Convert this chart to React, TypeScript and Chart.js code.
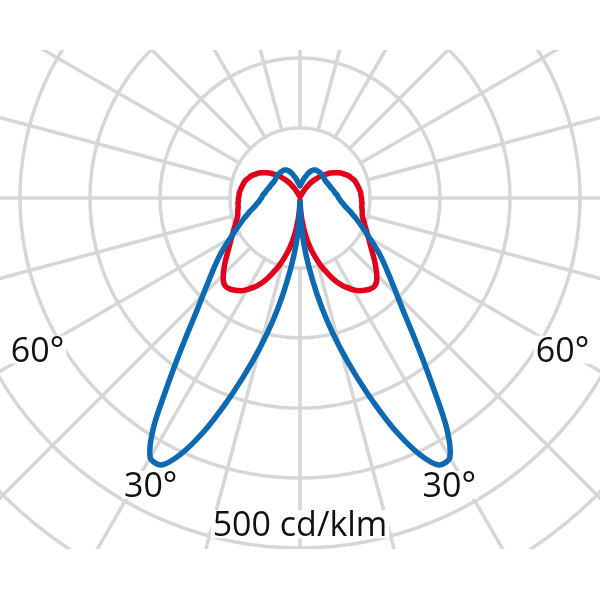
import React, { useEffect, useRef } from "react";
import { Chart, registerables } from "chart.js";

Chart.register(...registerables);

// Gamma angles (degrees from nadir), one half of the symmetric diagram
const ANGLE_STEP = 2.5;
const gammaHalf: number[] = Array.from({ length: 73 }, (_, i) => i * ANGLE_STEP);

// Luminous intensity (cd/klm) at gammaHalf angles, blue curve (narrow batwing)
const blueHalf: number[] = [
  6, 36, 68, 101, 139, 180, 222, 266, 314, 363, 404, 430, 428, 390, 333, 286,
  248, 218, 196, 178, 163, 150, 138, 126, 115, 106, 98, 91, 85, 79, 74, 69,
  65, 62, 59, 57, 55, 54, 53, 51, 50, 49, 48, 47, 46, 46, 45, 45,
  44, 44, 44, 44, 45, 45, 46, 46, 46, 46, 46, 46, 46, 45, 44, 42,
  39, 36, 32, 29, 26, 23, 21, 19, 17,
];

// Luminous intensity (cd/klm), red curve (wide)
const redHalf: number[] = [
  3, 17, 31, 47, 63, 77, 90, 103, 114, 126, 136, 144, 151, 157, 161, 164,
  165, 162, 155, 147, 139, 131, 124, 118, 113, 108, 104, 100, 97, 94, 92, 91,
  90, 89, 89, 88, 88, 87, 87, 86, 85, 84, 83, 82, 80, 78, 76, 73,
  70, 67, 63, 59, 55, 50, 46, 41, 36, 31, 26, 20, 15, 11, 8, 6,
  4, 3, 3, 3, 3, 3, 3, 3, 3,
];

const angleTickLabels = ["30°", "60°"];
const angleTickGammas = [27.5, 60];
const unitLabel = "500 cd/klm";
const unitValue = 500;
const gridMax = 700;
const gridStep = 100;

// full circle (mirror of the half-diagram: nadir -> one side -> zenith -> other side)
const fullCount = (gammaHalf.length - 1) * 2;
const labels = Array.from({ length: fullCount }, (_, i) => String(i * ANGLE_STEP));
const mirror = (half: number[]) =>
  Array.from({ length: fullCount }, (_, i) => (i <= fullCount / 2 ? half[i] : half[fullCount - i]));

const FONT = '34px "Open Sans"';

const overlayPlugin = {
  id: "overlay",
  beforeDatasetsDraw(chart: any) {
    const s = chart.scales.r;
    const ctx = chart.ctx;
    const r1 = s.getDistanceFromCenterForValue(gridStep);
    ctx.save();
    ctx.fillStyle = "#ffffff";
    ctx.beginPath();
    ctx.arc(s.xCenter, s.yCenter, r1 - 1.8, 0, Math.PI * 2);
    ctx.fill();
    ctx.restore();
  },
  afterDatasetsDraw(chart: any) {
    const s = chart.scales.r;
    const ctx = chart.ctx;
    ctx.save();
    ctx.font = FONT;
    const draw = (text: string, index: number, value: number) => {
      const d = s.getDistanceFromCenterForValue(value);
      const p = s.getPointPosition(index, d);
      const w = ctx.measureText(text).width;
      ctx.fillStyle = "#ffffff";
      ctx.fillRect(p.x - w / 2 - 2, p.y - 14, w + 4, 28);
      ctx.fillStyle = "#111111";
      ctx.textAlign = "center";
      ctx.textBaseline = "alphabetic";
      ctx.fillText(text, p.x, p.y + 12);
    };
    const labelValues = [462, 433];
    angleTickLabels.forEach((t, k) => {
      const idx = Math.round(angleTickGammas[k] / ANGLE_STEP);
      draw(t, idx, labelValues[k]);
      draw(t, fullCount - idx, labelValues[k]);
    });
    draw(unitLabel, 0, unitValue - 34);
    ctx.restore();
  },
};

export default function App() {
  const ref = useRef<HTMLCanvasElement | null>(null);
  useEffect(() => {
    if (!ref.current) return;
    const chart = new Chart(ref.current, {
      type: "radar",
      data: {
        labels,
        datasets: [
          {
            label: "blue",
            data: mirror(blueHalf),
            borderColor: "#0b6ab2",
            borderWidth: 5.5,
            pointRadius: 0,
            fill: false,
            tension: 0.3,
            borderJoinStyle: "round",
          },
          {
            label: "red",
            data: mirror(redHalf),
            borderColor: "#e2001a",
            borderWidth: 5.5,
            pointRadius: 0,
            fill: false,
            tension: 0.3,
            borderJoinStyle: "round",
          },
        ],
      },
      options: {
        animation: false,
        responsive: false,
        devicePixelRatio: 1,
        layout: { padding: 0 },
        plugins: { legend: { display: false }, tooltip: { enabled: false } },
        scales: {
          r: {
            min: 0,
            max: gridMax,
            startAngle: 180,
            ticks: { display: false, stepSize: gridStep },
            pointLabels: { display: false },
            grid: { circular: true, color: "#d6d6d6", lineWidth: 3.5 },
            angleLines: {
              display: true,
              color: "#d6d6d6",
              lineWidth: (c: any) => (c.index % 6 === 0 ? 3.5 : 0),
            },
          },
        },
      },
      plugins: [overlayPlugin],
    } as any);
    return () => chart.destroy();
  }, []);
  return (
    <div style={{ position: "absolute", left: 0, top: 50, width: 600, height: 499, overflow: "hidden", background: "#fff" }}>
      <canvas
        ref={ref}
        width={980}
        height={980}
        style={{ position: "absolute", left: -190, top: -342, width: 980, height: 980 }}
      />
    </div>
  );
}
